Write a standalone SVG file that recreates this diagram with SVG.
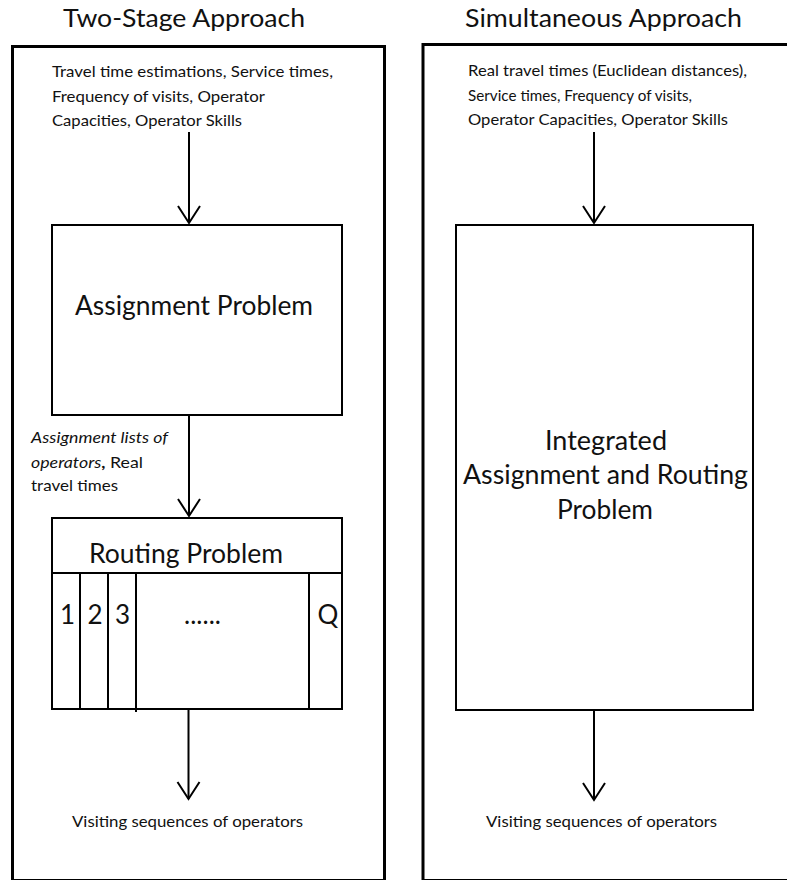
<svg xmlns="http://www.w3.org/2000/svg" width="787" height="880" viewBox="0 0 787 880">
  <style>
    text { font-family: Lato, "Open Sans", "Liberation Sans", sans-serif; fill: #111; }
    .title { font-size: 25px; }
    .big { font-size: 26px; }
    .small { font-size: 16px; }
    .outer { fill: none; stroke: #000; stroke-width: 3; }
    .box { fill: #fff; stroke: #000; stroke-width: 2; }
    .div { stroke: #000; stroke-width: 2; }
    .edge { fill: none; stroke: #000; stroke-width: 2; marker-end: url(#vhead); }
  </style>
  <defs>
    <marker id="vhead" markerUnits="userSpaceOnUse" orient="auto" refX="0" refY="0" markerWidth="40" markerHeight="40" overflow="visible">
      <path d="M-17,-11 L0,0 L-17,11" fill="none" stroke="#000" stroke-width="2"/>
    </marker>
  </defs>

  <rect width="787" height="880" fill="#fff"/>

  <!-- Left panel: two-stage approach -->
  <g id="two-stage-panel">
    <text class="title" x="63" y="27" textLength="242" lengthAdjust="spacingAndGlyphs">Two-Stage Approach</text>
    <rect class="outer" x="12.5" y="46.5" width="372" height="834"/>
  </g>

  <g id="two-stage-inputs">
    <text class="small" x="52" y="77" textLength="281" lengthAdjust="spacingAndGlyphs">Travel time estimations, Service times,</text>
    <text class="small" x="52" y="101.5" textLength="213" lengthAdjust="spacingAndGlyphs">Frequency of visits, Operator</text>
    <text class="small" x="52" y="126" textLength="190" lengthAdjust="spacingAndGlyphs">Capacities, Operator Skills</text>
  </g>

  <g id="assignment-problem">
    <rect class="box" x="52" y="225" width="290" height="190"/>
    <text class="big" x="75" y="315" textLength="238" lengthAdjust="spacingAndGlyphs">Assignment Problem</text>
  </g>

  <g id="assignment-output">
    <text class="small" x="31" y="443" textLength="137" lengthAdjust="spacingAndGlyphs" font-style="italic">Assignment lists of</text>
    <text class="small" x="31" y="468" textLength="112" lengthAdjust="spacingAndGlyphs"><tspan font-style="italic">operators</tspan><tspan font-weight="bold">,</tspan> Real</text>
    <text class="small" x="31" y="491" textLength="87" lengthAdjust="spacingAndGlyphs">travel times</text>
  </g>

  <g id="routing-problem">
    <rect class="box" x="52" y="518" width="290" height="191"/>
    <line class="div" x1="52" y1="573" x2="342" y2="573"/>
    <line class="div" x1="80" y1="573" x2="80" y2="709"/>
    <line class="div" x1="108" y1="573" x2="108" y2="709"/>
    <line class="div" x1="136" y1="573" x2="136" y2="712"/>
    <line class="div" x1="309" y1="573" x2="309" y2="709"/>
    <text class="big" x="89" y="563" textLength="194" lengthAdjust="spacingAndGlyphs">Routing Problem</text>
    <text class="big" x="67.5" y="624" text-anchor="middle">1</text>
    <text class="big" x="95" y="624" text-anchor="middle">2</text>
    <text class="big" x="122.5" y="624" text-anchor="middle">3</text>
    <text class="big" x="184" y="624" textLength="37" lengthAdjust="spacing">......</text>
    <text class="big" x="328" y="624" text-anchor="middle">Q</text>
  </g>

  <g id="two-stage-result">
    <text class="small" x="72" y="827" textLength="231" lengthAdjust="spacingAndGlyphs">Visiting sequences of operators</text>
  </g>

  <!-- Right panel: simultaneous approach -->
  <g id="simultaneous-panel">
    <text class="title" x="465" y="27" textLength="277" lengthAdjust="spacingAndGlyphs">Simultaneous Approach</text>
    <rect class="outer" x="423" y="44.5" width="380" height="836"/>
  </g>

  <g id="simultaneous-inputs">
    <text class="small" x="468" y="76" textLength="279" lengthAdjust="spacingAndGlyphs">Real travel times (Euclidean distances),</text>
    <text class="small" x="468" y="100.5" textLength="224" lengthAdjust="spacingAndGlyphs">Service times, Frequency of visits,</text>
    <text class="small" x="468" y="125" textLength="260" lengthAdjust="spacingAndGlyphs">Operator Capacities, Operator Skills</text>
  </g>

  <g id="integrated-problem">
    <rect class="box" x="456" y="225" width="297" height="485"/>
    <text class="big" x="545" y="450" textLength="122" lengthAdjust="spacingAndGlyphs">Integrated</text>
    <text class="big" x="463" y="484" textLength="285" lengthAdjust="spacingAndGlyphs">Assignment and Routing</text>
    <text class="big" x="557" y="519" textLength="96" lengthAdjust="spacingAndGlyphs">Problem</text>
  </g>

  <g id="simultaneous-result">
    <text class="small" x="486" y="827" textLength="231" lengthAdjust="spacingAndGlyphs">Visiting sequences of operators</text>
  </g>

  <!-- Connectors -->
  <g id="connectors">
    <line class="edge" x1="189" y1="132" x2="189" y2="223"/>
    <line class="edge" x1="189" y1="415" x2="189" y2="516"/>
    <line class="edge" x1="188.5" y1="709" x2="188.5" y2="799"/>
    <line class="edge" x1="594" y1="132" x2="594" y2="223"/>
    <line class="edge" x1="594" y1="710" x2="594" y2="800"/>
  </g>
</svg>
